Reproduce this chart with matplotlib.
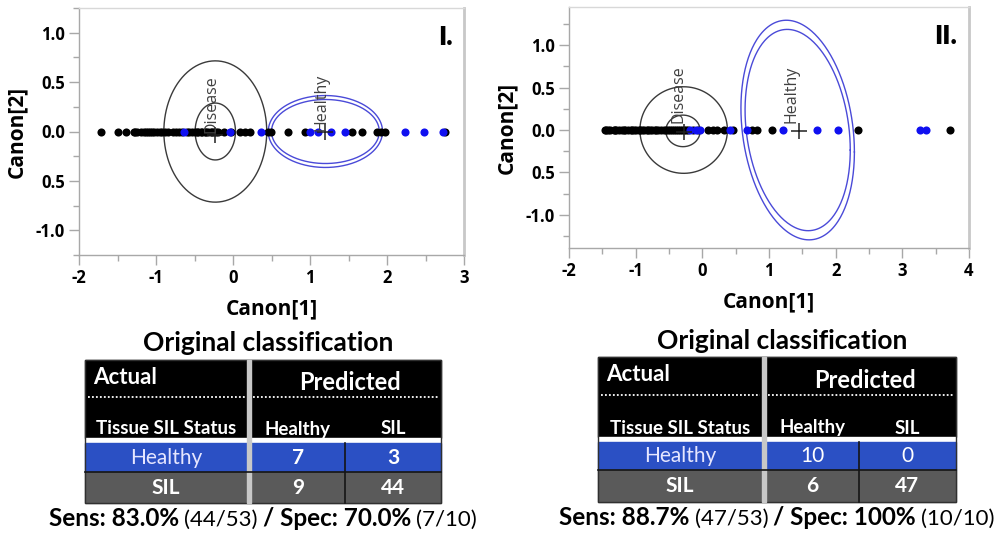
import matplotlib
matplotlib.use('Agg')
import matplotlib.pyplot as plt
from matplotlib.patches import Rectangle
import numpy as np

# Panel I canonical scores (Canon[1]); Canon[2] is 0 for every sample
p1_sil_x = [-1.72, -1.50, -1.39, -1.29, -1.27, -1.25, -1.20, -1.16, -1.13, -1.10,
            -1.08, -1.05, -1.02, -0.99, -0.95, -0.92, -0.88, -0.85, -0.78, -0.74,
            -0.70, -0.66, -0.60, -0.57, -0.53, -0.50, -0.47, -0.45, -0.42, -0.40,
            -0.37, -0.35, -0.32, -0.29, -0.27, -0.25, -0.22, -0.19, -0.12, -0.02,
            0.09, 0.15, 0.22, 0.46, 0.49, 0.71, 0.93, 1.54, 1.67, 1.87,
            1.92, 1.98, 2.75]
p1_healthy_x = [-0.63, -0.04, 0.36, 1.00, 1.11, 1.27, 1.46, 2.23, 2.48, 2.73]

# Panel II canonical scores
p2_sil_x = [-1.46, -1.44, -1.42, -1.38, -1.33, -1.31, -1.29, -1.25, -1.20, -1.18,
            -1.16, -1.12, -1.07, -1.05, -1.03, -0.99, -0.95, -0.93, -0.91, -0.87,
            -0.83, -0.81, -0.79, -0.75, -0.71, -0.69, -0.66, -0.62, -0.58, -0.55,
            -0.52, -0.49, -0.46, -0.43, -0.40, -0.37, -0.34, -0.31, -0.28, -0.25,
            -0.21, -0.14, -0.07, 0.09, 0.16, 0.22, 0.32, 0.46, 0.75,
            0.82, 1.04, 2.34, 3.72]
p2_healthy_x = [-0.18, -0.10, -0.03, 0.42, 0.67, 1.21, 1.72, 2.03, 3.27, 3.35]

# ellipses: (center x, center y, half width, half height, x shift of top point)
p1_disease_rings = [(-0.23, 0.0, 0.668, 0.715, 0.0), (-0.23, 0.0, 0.262, 0.288, 0.0)]
p1_healthy_rings = [(1.20, 0.0, 0.742, 0.364, 0.0), (1.20, 0.0, 0.700, 0.324, 0.0)]
p2_disease_rings = [(-0.28, 0.0, 0.656, 0.510, 0.0), (-0.29, -0.01, 0.258, 0.186, 0.0)]
p2_healthy_rings = [(1.43, 0.0, 0.851, 1.294, -0.17), (1.43, 0.0, 0.789, 1.186, -0.157)]

p1_means = {'Disease': (-0.23, -0.04), 'Healthy': (1.20, -0.01)}
p2_means = {'Disease': (-0.28, -0.02), 'Healthy': (1.445, -0.01)}
p1_label_pos = {'Disease': (-0.285, 0.28), 'Healthy': (1.147, 0.29)}
p2_label_pos = {'Disease': (-0.36, 0.42), 'Healthy': (1.345, 0.42)}

y_ticks = [-1.0, -0.5, 0.0, 0.5, 1.0]
y_tick_labels = ['-1.0', '0.5', '0.0', '0.5', '1.0']

# confusion tables
row_labels = ['Healthy', 'SIL']
col_labels = ['Healthy', 'SIL']
p1_counts = [[7, 3], [9, 44]]
p2_counts = [[10, 0], [6, 47]]
p1_sens = ('83.0%', '(44/53)', '70.0%', '(7/10)')
p2_sens = ('88.7%', '(47/53)', '100%', '(10/10)')

AX_FONT = 'Open Sans'
TB_FONT = 'Lato'
BLUE_DOT = '#1010f0'
RING_BLUE = '#4a4ad8'
GRID_GRAY = '#a8a8a8'


def ring_xy(cx, cy, hw, hh, shift):
    s = np.array([[hw ** 2, shift * hh], [shift * hh, hh ** 2]])
    l = np.linalg.cholesky(s)
    t = np.linspace(0, 2 * np.pi, 300)
    pts = l @ np.vstack([np.cos(t), np.sin(t)])
    return cx + pts[0], cy + pts[1]


def draw_canon(ax, sil_x, healthy_x, dis_rings, hea_rings, means, label_pos,
               xlim, ylim, x_ticks, tag):
    for r in dis_rings:
        x, y = ring_xy(*r)
        ax.plot(x, y, color='#3a3a3a', lw=1.0, zorder=2)
    for r in hea_rings:
        x, y = ring_xy(*r)
        ax.plot(x, y, color=RING_BLUE, lw=1.0, zorder=2)
    ax.scatter(sil_x, np.zeros(len(sil_x)), s=34, color='black', zorder=3, linewidths=0)
    ax.scatter(healthy_x, np.zeros(len(healthy_x)), s=34, color=BLUE_DOT, zorder=4,
               linewidths=0)
    for name, (mx, my) in means.items():
        ax.plot(mx, my, marker='+', ms=12, mew=1.1, color='#202020', zorder=5)
    for name, (lx, ly) in label_pos.items():
        ax.text(lx, ly, name, rotation=90, ha='center', va='center', fontsize=11.5,
                color='#404040', family=AX_FONT, zorder=6)
    ax.set_xlim(xlim)
    ax.set_ylim(ylim)
    ax.set_xticks(x_ticks)
    ax.set_xticklabels([str(v) for v in x_ticks], family=AX_FONT, fontweight='bold',
                       fontsize=12)
    ax.set_xticks(np.arange(x_ticks[0] + 0.5, x_ticks[-1], 1.0), minor=True)
    ax.set_yticks(y_ticks)
    ax.set_yticklabels(y_tick_labels, family=AX_FONT, fontweight='bold', fontsize=12)
    ax.set_yticks([-1.25, -0.75, -0.25, 0.25, 0.75, 1.25], minor=True)
    ax.tick_params(which='major', length=7, width=1, color=GRID_GRAY, pad=3)
    ax.tick_params(which='minor', length=4, width=1, color=GRID_GRAY)
    for side in ['left', 'bottom', 'top']:
        ax.spines[side].set_color(GRID_GRAY)
        ax.spines[side].set_linewidth(1.0)
    ax.spines['top'].set_color('#d8d8d8')
    ax.spines['right'].set_color('#c8c8c8')
    ax.spines['right'].set_linewidth(2.0)
    ax.set_xlabel('Canon[1]', family=AX_FONT, fontweight='bold', fontsize=15, labelpad=8)
    ax.set_ylabel('Canon[2]', family=AX_FONT, fontweight='bold', fontsize=15, labelpad=6)
    ax.text(0.97, 0.93, tag, transform=ax.transAxes, ha='right', va='top',
            fontsize=19, fontweight='heavy', family=TB_FONT)


def rich_line(ax, renderer, xc, y, pieces):
    arts = []
    for txt, weight, size in pieces:
        t = ax.text(0, y, txt, fontsize=size, fontweight=weight, family=TB_FONT,
                    va='baseline', ha='left')
        arts.append(t)
    widths = [a.get_window_extent(renderer).width for a in arts]
    gap = 5
    total = sum(widths) + gap * (len(arts) - 1)
    x = xc - total / 2
    for a, w in zip(arts, widths):
        a.set_x(x)
        x += w + gap


def draw_table(ax, renderer, box, counts, bold_first_row, sens, title_xy):
    left, top, c1, c2, right, hdr_bot, blue_bot, bottom = box
    ax.text(title_xy[0], title_xy[1], 'Original classification', ha='center',
            va='center', fontsize=19, fontweight='bold', family=TB_FONT)
    ax.add_patch(Rectangle((left, top), right - left, hdr_bot - top, color='black'))
    ax.add_patch(Rectangle((left, hdr_bot), right - left, 5, color='white'))
    ax.add_patch(Rectangle((left, hdr_bot + 5), right - left, blue_bot - hdr_bot - 5,
                           color='#2b50c4'))
    ax.add_patch(Rectangle((left, blue_bot), right - left, bottom - blue_bot,
                           color='#5a5a5a'))
    ax.add_patch(Rectangle((left, top), right - left, bottom - top, fill=False,
                           ec='#303030', lw=1.0))
    ax.plot([left, right], [blue_bot, blue_bot], color='#151515', lw=1.2)
    ax.plot([c2, c2], [hdr_bot + 5, bottom], color='#151515', lw=1.2)
    ax.add_patch(Rectangle((c1, top), 4, bottom - top, color='#c8c8c8'))
    dot_y = top + 0.48 * (hdr_bot - top)
    ax.plot([left + 3, c1 - 2], [dot_y, dot_y], color='white', lw=1.3, ls=(0, (1, 1.2)))
    ax.plot([c1 + 6, right - 3], [dot_y, dot_y], color='white', lw=1.3, ls=(0, (1, 1.2)))
    ax.text(left + 8, top + 0.22 * (hdr_bot - top), 'Actual', ha='left', va='center',
            color='white', fontsize=16, fontweight='bold', family=TB_FONT)
    ax.text((c1 + right) / 2 + 6, top + 0.29 * (hdr_bot - top), 'Predicted',
            ha='center', va='center', color='white', fontsize=17, fontweight='bold',
            family=TB_FONT)
    sub_y = hdr_bot - 9
    col_x = [(left + c1) / 2, (c1 + c2) / 2 + 2, (c2 + right) / 2]
    for cx, txt in zip(col_x, ['Tissue SIL Status'] + col_labels):
        ax.text(cx, sub_y, txt, ha='center', va='center', color='white', fontsize=13.5,
                fontweight='bold', family=TB_FONT)
    rows_y = [(hdr_bot + 5 + blue_bot) / 2, (blue_bot + bottom) / 2]
    for i, (ry, name) in enumerate(zip(rows_y, row_labels)):
        ax.text(col_x[0], ry, name, ha='center', va='center',
                color='#e6e6ff' if i == 0 else 'white', fontsize=15,
                fontweight='normal' if i == 0 else 'bold', family=TB_FONT)
        wt = 'bold' if (i == 1 or bold_first_row) else 'normal'
        for j in range(2):
            ax.text(col_x[j + 1], ry, str(counts[i][j]), ha='center', va='center',
                    color='white', fontsize=15, fontweight=wt, family=TB_FONT)
    sens_pct, sens_frac, spec_pct, spec_frac = sens
    rich_line(ax, renderer, (left + right) / 2, bottom + 23,
              [('Sens: ' + sens_pct, 'bold', 17.5), (sens_frac, 'normal', 16),
               ('/ Spec: ' + spec_pct, 'bold', 17.5), (spec_frac, 'normal', 16)])


fig = plt.figure(figsize=(10.03, 5.39), dpi=100)
ax1 = fig.add_axes([79 / 1003, 1 - 255 / 539, 385 / 1003, 247 / 539])
ax2 = fig.add_axes([569 / 1003, 1 - 248 / 539, 400 / 1003, 241 / 539])

draw_canon(ax1, p1_sil_x, p1_healthy_x, p1_disease_rings, p1_healthy_rings, p1_means,
           p1_label_pos, (-2, 3), (-1.06, 1.19), [-2, -1, 0, 1, 2, 3], 'I.')
draw_canon(ax2, p2_sil_x, p2_healthy_x, p2_disease_rings, p2_healthy_rings, p2_means,
           p2_label_pos, (-2, 4), (-1.39, 1.45), [-2, -1, 0, 1, 2, 3, 4], 'II.')

# overlay in pixel units for the tables
ov = fig.add_axes([0, 0, 1, 1], zorder=-1)
ov.set_xlim(0, 1003)
ov.set_ylim(539, 0)
ov.axis('off')
renderer = fig.canvas.get_renderer()

draw_table(ov, renderer, (85, 360, 247, 345, 441, 438, 472, 503), p1_counts, True,
           p1_sens, (268, 343))
draw_table(ov, renderer, (598, 357, 762, 859, 956, 437, 470, 502), p2_counts, False,
           p2_sens, (782, 341))

fig.savefig('out.png', dpi=100)
